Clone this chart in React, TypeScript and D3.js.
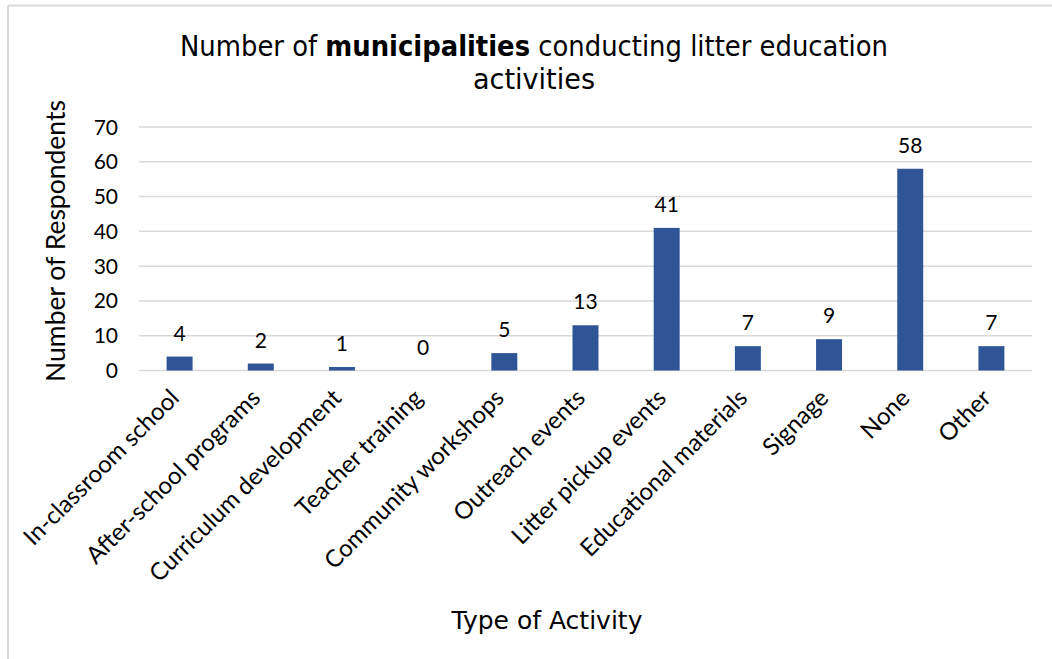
import React from "react";
import * as d3 from "d3";

const categories = [
  "In-classroom school",
  "After-school programs",
  "Curriculum development",
  "Teacher training",
  "Community workshops",
  "Outreach events",
  "Litter pickup events",
  "Educational materials",
  "Signage",
  "None",
  "Other",
];
const values = [4, 2, 1, 0, 5, 13, 41, 7, 9, 58, 7];
const yTicks = [0, 10, 20, 30, 40, 50, 60, 70];

const W = 1052;
const H = 659;
const plotLeft = 139;
const plotRight = 1032;
const plotTop = 127;
const plotBottom = 370.5;

const BAR = "#2f5597";
const GRID = "#d9d9d9";
const SANS = "Lato, 'Open Sans', sans-serif";
const TITLE_FONT = "'DejaVu Sans Condensed', 'DejaVu Sans', sans-serif";

export default function App() {
  const x = d3
    .scaleBand<string>()
    .domain(categories)
    .range([plotLeft, plotRight])
    .paddingInner(0.68)
    .paddingOuter(0.34);
  const band = d3.scaleBand<string>().domain(categories).range([plotLeft, plotRight]);
  const y = d3.scaleLinear().domain([0, 70]).range([plotBottom, plotTop]);

  return (
    <svg
      width={W}
      height={H}
      style={{ position: "absolute", left: 0, top: 0, background: "#fff" }}
    >
      <rect x={0} y={0} width={W} height={H} fill="#fff" />
      <line x1={8} y1={5.5} x2={W} y2={5.5} stroke={GRID} strokeWidth={2} />
      <line x1={8} y1={5.5} x2={8} y2={H} stroke={GRID} strokeWidth={2} />

      <text
        x={534}
        y={56}
        textAnchor="middle"
        fontFamily={TITLE_FONT}
        fontSize={28.5}
        textLength={708}
        lengthAdjust="spacingAndGlyphs"
        fill="#000"
      >
        Number of <tspan fontWeight="bold">municipalities</tspan> conducting litter education
      </text>
      <text
        x={534}
        y={89}
        textAnchor="middle"
        fontFamily={TITLE_FONT}
        fontSize={28.5}
        textLength={122}
        lengthAdjust="spacingAndGlyphs"
        fill="#000"
      >
        activities
      </text>

      {yTicks.map((t) => (
        <g key={t}>
          <line
            x1={plotLeft}
            x2={plotRight}
            y1={y(t)}
            y2={y(t)}
            stroke={GRID}
            strokeWidth={1.5}
          />
          <text
            x={118}
            y={y(t) + 7.5}
            textAnchor="end"
            fontFamily={SANS}
            fontSize={21}
            fill="#000"
          >
            {t}
          </text>
        </g>
      ))}

      <text
        transform={`translate(65, ${241}) rotate(-90)`}
        textAnchor="middle"
        fontFamily={SANS}
        fontSize={26.5}
        fill="#000"
      >
        Number of Respondents
      </text>

      {categories.map((c, i) => {
        const v = values[i];
        const bx = x(c)!;
        const bw = x.bandwidth();
        const cx = band(c)! + band.bandwidth() / 2;
        return (
          <g key={c}>
            {v > 0 && (
              <rect x={bx} y={y(v)} width={bw} height={plotBottom - y(v)} fill={BAR} />
            )}
            <text
              x={cx}
              y={y(v) - 16}
              textAnchor="middle"
              fontFamily={SANS}
              fontSize={21}
              fill="#000"
            >
              {v}
            </text>
            <text
              transform={`translate(${cx + 1}, ${plotBottom + 29}) rotate(-45)`}
              textAnchor="end"
              fontFamily={SANS}
              fontSize={24}
              fill="#000"
            >
              {c}
            </text>
          </g>
        );
      })}

      <text
        x={547}
        y={629}
        textAnchor="middle"
        fontFamily="'DejaVu Sans', sans-serif"
        fontSize={25}
        fill="#000"
      >
        Type of Activity
      </text>
    </svg>
  );
}
